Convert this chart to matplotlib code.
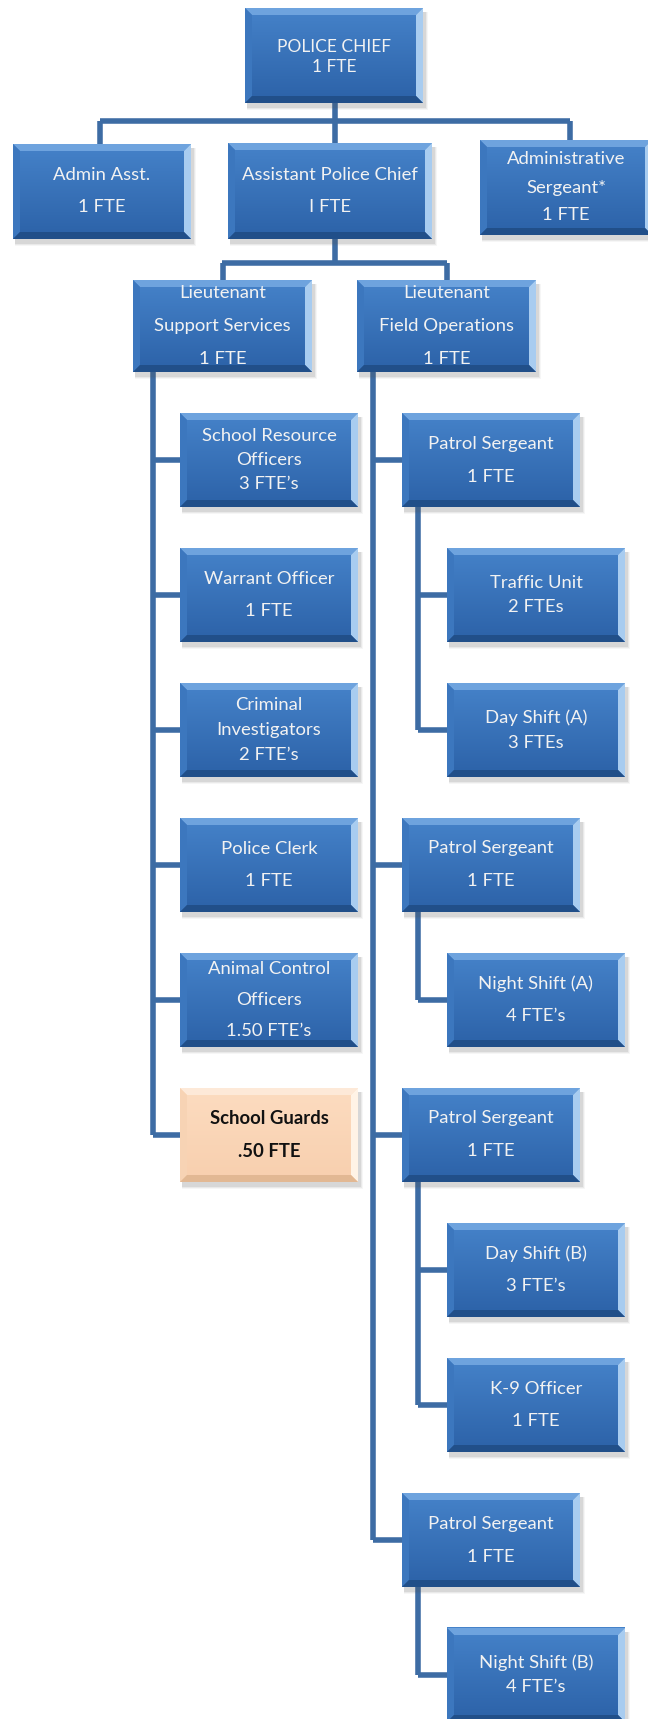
import matplotlib
matplotlib.use("Agg")
import matplotlib.pyplot as plt
import numpy as np
from matplotlib.patches import Polygon, Rectangle
from matplotlib.colors import to_rgb

# org chart content
chief_label = ["POLICE CHIEF", "1 FTE"]
staff_labels = [["Admin Asst.", "1 FTE"],
                ["Assistant Police Chief", "I FTE"],
                ["Administrative", "Sergeant*", "1 FTE"]]
lieutenant_labels = [["Lieutenant", "Support Services", "1 FTE"],
                     ["Lieutenant", "Field Operations", "1 FTE"]]
support_units = [["School Resource", "Officers"], ["Warrant Officer"], ["Criminal", "Investigators"],
                 ["Police Clerk"], ["Animal Control", "Officers"], ["School Guards"]]
support_fte = ["3 FTE\u2019s", "1 FTE", "2 FTE\u2019s", "1 FTE", "1.50 FTE\u2019s", ".50 FTE"]
sergeant_label = ["Patrol Sergeant", "1 FTE"]
squad_units = [["Traffic Unit", "Day Shift (A)"], ["Night Shift (A)"],
               ["Day Shift (B)", "K-9 Officer"], ["Night Shift (B)"]]
squad_fte = [["2 FTEs", "3 FTEs"], ["4 FTE\u2019s"], ["3 FTE\u2019s", "1 FTE"], ["4 FTE\u2019s"]]

W, H = 648, 1719
LINE = "#3d6ca4"
BLUE = dict(face_top="#4582c9", face_bot="#2c62a8", top="#6ea3de", left="#3c77be",
            right="#a8ccf0", bottom="#214f89", text="#f2f2f2")
PEACH = dict(face_top="#fcdcc0", face_bot="#f8cfae", top="#fde9d8", left="#f7d3b4",
             right="#fff3e6", bottom="#e2b893", text="#111111")
FS = 13.3

fig = plt.figure(figsize=(W / 100, H / 100), dpi=100)
ax = fig.add_axes([0, 0, 1, 1])
ax.set_xlim(0, W)
ax.set_ylim(H, 0)
ax.axis("off")
plt.rcParams['font.family'] = ['Lato', 'DejaVu Sans']


def line(xs, ys):
    ax.plot(xs, ys, color=LINE, lw=4.0, solid_capstyle='butt', zorder=1)


def box(x0, y0, x1, y1, lines, gap=33, shift=0, style=BLUE, bold=False, size=FS):
    b = 7
    # soft shadow
    for k, a in [(6, 0.05), (4, 0.08), (2, 0.12)]:
        ax.add_patch(Rectangle((x0 + 2, y0 + 4), x1 - x0 + k / 2, y1 - y0 + k / 2,
                               color="#555555", alpha=a, lw=0, zorder=2))
    c0, c1 = np.array(to_rgb(style["face_top"])), np.array(to_rgb(style["face_bot"]))
    t = np.linspace(0, 1, 32)[:, None, None]
    grad = c0 * (1 - t) + c1 * t
    ax.imshow(grad, extent=(x0, x1, y1, y0), origin='upper', aspect='auto', zorder=3,
              interpolation='bilinear')
    ax.add_patch(Polygon([(x0, y0), (x1, y0), (x1 - b, y0 + b), (x0 + b, y0 + b)],
                         color=style["top"], lw=0, zorder=4))
    ax.add_patch(Polygon([(x0, y0), (x0 + b, y0 + b), (x0 + b, y1 - b), (x0, y1)],
                         color=style["left"], lw=0, zorder=4))
    ax.add_patch(Polygon([(x1, y0), (x1, y1), (x1 - b, y1 - b), (x1 - b, y0 + b)],
                         color=style["right"], lw=0, zorder=4))
    ax.add_patch(Polygon([(x0, y1), (x1, y1), (x1 - b, y1 - b), (x0 + b, y1 - b)],
                         color=style["bottom"], lw=0, zorder=4))
    cx, cy = (x0 + x1) / 2, (y0 + y1) / 2 + shift
    n = len(lines)
    for i, s in enumerate(lines):
        ax.text(cx, cy + (i - (n - 1) / 2) * gap, s, ha='center', va='center',
                color=style["text"], fontsize=size, zorder=5,
                fontweight='bold' if bold else 'normal')


BH = 94      # box height
STEP = 135   # row step
ROW0 = 413   # first child row top

# top levels
box(245, 8, 423, 103, chief_label, gap=20, shift=1, size=12.5)
staff_x = [(13, 191), (228, 432), (480, 652)]
staff_y = [(144, 239), (143, 239), (140, 235)]
staff_gap = [32, 32, 28]
line([335, 335], [103, 143])
line([100, 570], [121, 121])
line([100, 100], [121, 144])
line([570, 570], [121, 140])
for (xa, xb), (ya, yb), lab, g in zip(staff_x, staff_y, staff_labels, staff_gap):
    box(xa, ya, xb, yb, lab, gap=g)

lt_x = [(133, 312), (357, 536)]
line([335, 335], [239, 263])
line([222, 447], [263, 263])
for (xa, xb), lab in zip(lt_x, lieutenant_labels):
    line([(xa + xb) / 2] * 2, [263, 280])
    box(xa, 280, xb, 372, lab, gap=33)

# support services column
sup_gap = [24, 33, 25, 33, 31, 33]
n_sup = len(support_units)
line([153, 153], [372, ROW0 + (n_sup - 1) * STEP + BH / 2])
for i, (name, fte) in enumerate(zip(support_units, support_fte)):
    top = ROW0 + i * STEP
    line([153, 182], [top + BH / 2] * 2)
    last = i == n_sup - 1
    box(180, top, 358, top + BH, name + [fte], gap=sup_gap[i],
        style=PEACH if last else BLUE, bold=last)

# field operations column
row = 0
sgt_rows = []
for s, units in enumerate(squad_units):
    sgt_rows.append(row)
    row += 1 + len(units)
line([373, 373], [372, ROW0 + sgt_rows[-1] * STEP + BH / 2])
tight = {"Traffic Unit", "Day Shift (A)", "Night Shift (B)"}
for s, units in enumerate(squad_units):
    top = ROW0 + sgt_rows[s] * STEP
    line([373, 404], [top + BH / 2] * 2)
    last_child = ROW0 + (sgt_rows[s] + len(units)) * STEP + BH / 2
    line([418, 418], [top + BH, last_child])
    box(402, top, 580, top + BH, sergeant_label, gap=33)
    for j, (u, f) in enumerate(zip(units, squad_fte[s])):
        ct = ROW0 + (sgt_rows[s] + 1 + j) * STEP
        line([418, 449], [ct + BH / 2] * 2)
        box(447, ct, 625, ct + BH, [u, f], gap=25 if u in tight else 32)

fig.savefig("out.png", dpi=100, facecolor="white")
